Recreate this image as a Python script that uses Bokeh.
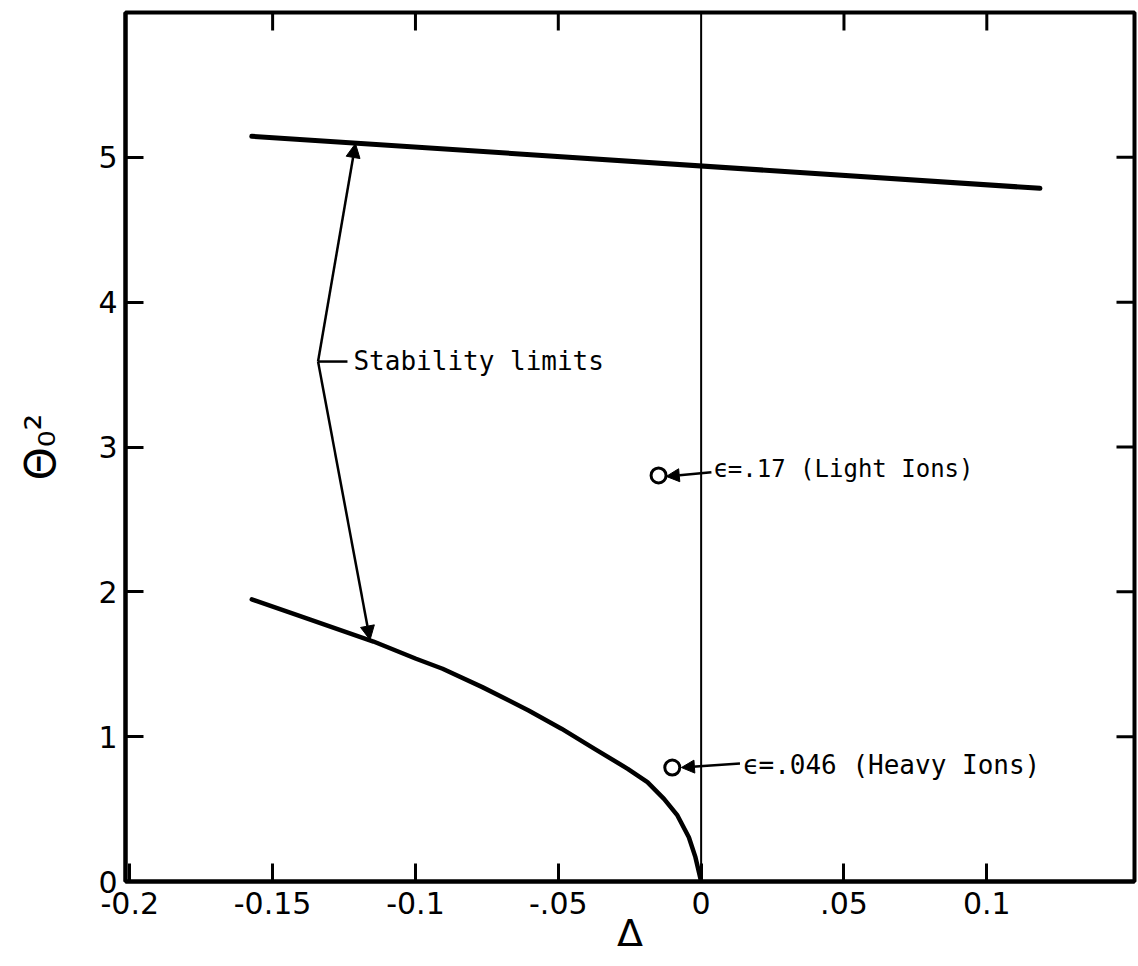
import math
from bokeh.plotting import figure
from bokeh.models import Range1d, FixedTicker, Arrow, NormalHead, Span
from bokeh.core.properties import value
from bokeh.embed import file_html
from bokeh.resources import INLINE

# ---- data ----
x_ticks = [-0.2, -0.15, -0.1, -0.05, 0.0, 0.05, 0.1]
x_tick_labels = ["-0.2", "-0.15", "-0.1", "-.05", "0", ".05", "0.1"]
y_ticks = [0, 1, 2, 3, 4, 5]
y_tick_labels = ["0", "1", "2", "3", "4", "5"]
top_ticks = [-0.15, -0.1, -0.05, 0.05, 0.1]
right_ticks = [1, 2, 3, 4, 5]

upper_delta = [-0.1573, 0.1186]
upper_theta2 = [5.145, 4.786]

lower_delta = [-0.1573, -0.1411, -0.1147, -0.0998, -0.0905, -0.0766, -0.0604, -0.0489,
               -0.0373, -0.0257, -0.0188, -0.0130, -0.0083, -0.0043, -0.0020, 0.0]
lower_theta2 = [1.948, 1.837, 1.657, 1.538, 1.469, 1.342, 1.181, 1.055,
                0.916, 0.778, 0.686, 0.571, 0.456, 0.306, 0.168, 0.0]

point_delta = [-0.0149, -0.0101]
point_theta2 = [2.804, 0.787]
point_labels = ["ϵ=.17 (Light Ions)", "ϵ=.046 (Heavy Ions)"]
point_label_delta = [0.0043, 0.0146]
point_label_theta2 = [2.845, 0.801]
point_label_sizes = ["24px", "26px"]
arrow_start_delta = [0.0036, 0.0136]
arrow_start_theta2 = [2.825, 0.815]
arrow_end_delta = [-0.0122, -0.0069]
arrow_end_theta2 = [2.797, 0.787]

stab_vertex = (-0.1341, 3.590)
stab_tips_delta = [-0.1210, -0.1159]
stab_tips_theta2 = [5.095, 1.668]
stab_dash_end = -0.1238
stab_text = "Stability limits"
stab_text_pos = (-0.1217, 3.595)

X_MIN, X_MAX = -0.2015, 0.1517
Y_MIN, Y_MAX = 0, 6

TICK_FONT = "DejaVu Sans"
NOTE_FONT = "DejaVu Sans Mono"

p = figure(width=1138, height=966,
           x_range=Range1d(X_MIN, X_MAX), y_range=Range1d(Y_MIN, Y_MAX),
           output_backend="svg", toolbar_location=None,
           min_border_left=125, min_border_right=4,
           min_border_top=12, min_border_bottom=85)
p.grid.visible = False
p.outline_line_color = "black"
p.outline_line_width = 4
p.background_fill_color = "white"
p.border_fill_color = "white"


def style_axis(ax, ticks, overrides):
    ax.ticker = FixedTicker(ticks=ticks)
    ax.major_label_overrides = overrides
    ax.axis_line_width = 4
    ax.axis_line_color = "black"
    ax.major_tick_in = 18
    ax.major_tick_out = 0
    ax.major_tick_line_width = 3
    ax.minor_tick_line_color = None
    ax.major_label_text_font = TICK_FONT
    ax.major_label_text_color = "black"
    ax.major_label_text_font_size = "30px"
    ax.axis_label_text_font = TICK_FONT
    ax.axis_label_text_font_style = "normal"
    ax.axis_label_text_color = "black"


xax = p.xaxis[0]
style_axis(xax, x_ticks, {t: l for t, l in zip(x_ticks, x_tick_labels)})
xax.major_label_standoff = 10
xax.axis_label = "Δ"
xax.axis_label_text_font_size = "38px"
xax.axis_label_standoff = -6

yax = p.yaxis[0]
style_axis(yax, y_ticks, {t: l for t, l in zip(y_ticks, y_tick_labels)})
yax.major_label_standoff = 8
yax.axis_label = "Θ₀²"
yax.axis_label_text_font_size = "42px"
yax.axis_label_standoff = 30

# inward ticks on the top and right edges (half of each dash is clipped by the frame)
p.scatter(top_ticks, [Y_MAX] * len(top_ticks), marker="dash", size=36, angle=math.pi / 2,
          line_color="black", line_width=3)
p.scatter([X_MAX] * len(right_ticks), right_ticks, marker="dash", size=36,
          line_color="black", line_width=3)

# vertical line at delta = 0
p.add_layout(Span(location=0, dimension="height", line_color="black", line_width=2))

# curves
p.line(upper_delta, upper_theta2, line_color="black", line_width=5, line_cap="round")
p.line(lower_delta, lower_theta2, line_color="black", line_width=4.5, line_cap="round",
       line_join="round")

# stability limits bracket
for xd, yd in zip(stab_tips_delta, stab_tips_theta2):
    p.add_layout(Arrow(x_start=stab_vertex[0], y_start=stab_vertex[1], x_end=xd, y_end=yd,
                       line_color="black", line_width=2.5,
                       end=NormalHead(size=14, fill_color="black", line_color="black", line_width=1)))
p.line([stab_vertex[0], stab_dash_end], [stab_vertex[1], stab_vertex[1]], line_color="black", line_width=2.5)
p.text(x=[stab_text_pos[0]], y=[stab_text_pos[1]], text=[stab_text],
       text_font=value(NOTE_FONT), text_font_size="26px", text_color="black",
       text_align="left", text_baseline="middle")

# points and annotations
for i in range(len(point_labels)):
    p.add_layout(Arrow(x_start=arrow_start_delta[i], y_start=arrow_start_theta2[i],
                       x_end=arrow_end_delta[i], y_end=arrow_end_theta2[i],
                       line_color="black", line_width=2.5,
                       end=NormalHead(size=13, fill_color="black", line_color="black", line_width=1)))
    p.text(x=[point_label_delta[i]], y=[point_label_theta2[i]], text=[point_labels[i]],
           text_font=value(NOTE_FONT), text_font_size=point_label_sizes[i], text_color="black",
           text_align="left", text_baseline="middle")

p.scatter(point_delta, point_theta2, marker="circle", size=15, fill_color="white",
          line_color="black", line_width=3)

open("out.html", "w").write(file_html(p, INLINE))
